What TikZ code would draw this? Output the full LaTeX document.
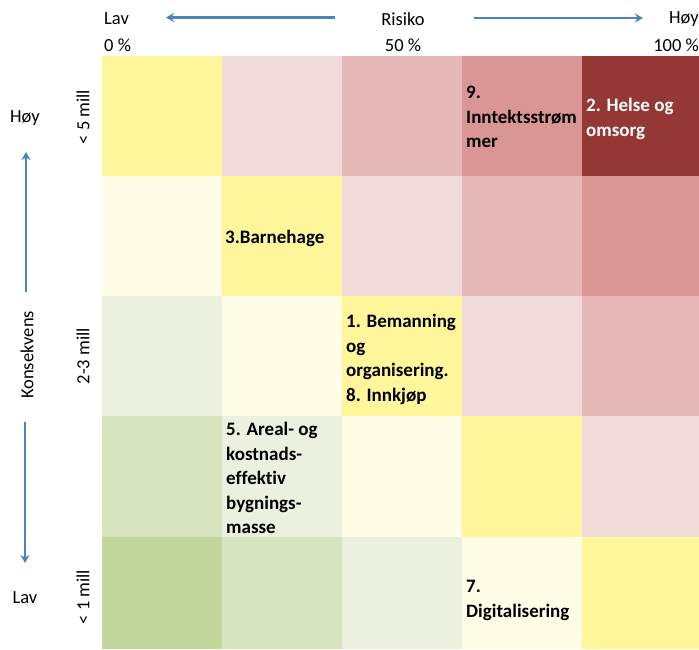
\documentclass[tikz,border=0pt]{standalone}
\usepackage{fontspec}
\setmainfont{Carlito}[Ligatures={NoCommon}]
\usetikzlibrary{arrows.meta}
\definecolor{cYel}{HTML}{FFF69C}
\definecolor{cLYel}{HTML}{FFFDE6}
\definecolor{cLPink}{HTML}{F2DCDB}
\definecolor{cPink}{HTML}{E6B9B8}
\definecolor{cMid}{HTML}{D99694}
\definecolor{cDark}{HTML}{953735}
\definecolor{cLGrn}{HTML}{EBF1DE}
\definecolor{cGrn}{HTML}{D7E4BD}
\definecolor{cDGrn}{HTML}{C3D69B}
\definecolor{arrowblue}{HTML}{4F81BD}
\tikzset{
  axislbl/.style={inner sep=0pt, font=\fontsize{18.5}{22}\selectfont},
  celllbl/.style={inner sep=0pt, anchor=north west, align=left, font=\bfseries\fontsize{19}{24.5}\selectfont},
  bluearrow/.style={draw=arrowblue, line width=2.4pt, -{Stealth[length=8pt,width=9pt]}},
}
\begin{document}
\begin{tikzpicture}[x=1pt,y=-1pt]
\useasboundingbox (0,0) rectangle (699,649);
% grid cells
\def\xs{{102,222,342,462,582,699}}
\def\ys{{56,176,296,416,537,649}}
\newcommand\cellfill[3]{%
  \pgfmathsetmacro\xa{\xs[#1]}\pgfmathsetmacro\xb{\xs[#1+1]}%
  \pgfmathsetmacro\ya{\ys[#2]}\pgfmathsetmacro\yb{\ys[#2+1]}%
  \fill[#3] (\xa,\ya) rectangle (\xb,\yb);}
% row 1
\cellfill{0}{0}{cYel}\cellfill{1}{0}{cLPink}\cellfill{2}{0}{cPink}\cellfill{3}{0}{cMid}\cellfill{4}{0}{cDark}
% row 2
\cellfill{0}{1}{cLYel}\cellfill{1}{1}{cYel}\cellfill{2}{1}{cLPink}\cellfill{3}{1}{cPink}\cellfill{4}{1}{cMid}
% row 3
\cellfill{0}{2}{cLGrn}\cellfill{1}{2}{cLYel}\cellfill{2}{2}{cYel}\cellfill{3}{2}{cLPink}\cellfill{4}{2}{cPink}
% row 4
\cellfill{0}{3}{cGrn}\cellfill{1}{3}{cLGrn}\cellfill{2}{3}{cLYel}\cellfill{3}{3}{cYel}\cellfill{4}{3}{cLPink}
% row 5
\cellfill{0}{4}{cDGrn}\cellfill{1}{4}{cGrn}\cellfill{2}{4}{cLGrn}\cellfill{3}{4}{cLYel}\cellfill{4}{4}{cYel}

% top axis
\node[axislbl, anchor=west] (lavtop) at (104,19) {Lav};
\node[axislbl] (risiko) at (403,19) {Risiko};
\node[axislbl, anchor=east] (hoytop) at (699,19) {Høy};
\node[axislbl, anchor=west] (p0) at (104,45) {0 \%};
\node[axislbl] (p50) at (403,45) {50 \%};
\node[axislbl, anchor=east] (p100) at (699,45) {100 \%};
\coordinate (la) at (335,17.5);
\coordinate (lb) at (166,17.5);
\coordinate (ra) at (474,18);
\coordinate (rb) at (643,18);
\draw[bluearrow] (la) -- (lb);
\draw[bluearrow] (ra) -- (rb);

% left axis
\node[axislbl] (hoyleft) at (25,118) {Høy};
\node[axislbl, rotate=90] (kons) at (27,355) {Konsekvens};
\node[axislbl] (lavleft) at (25,598) {Lav};
\coordinate (ua) at (26,292);
\coordinate (ub) at (26,152);
\coordinate (da) at (25,422);
\coordinate (db) at (25,563);
\draw[bluearrow] (ua) -- (ub);
\draw[bluearrow] (da) -- (db);

\node[axislbl, rotate=90] (r1) at (83,117) {< 5 mill};
\node[axislbl, rotate=90] (r3) at (83,356) {2-3 mill};
\node[axislbl, rotate=90] (r5) at (83,597) {< 1 mill};

% cell labels
\node[celllbl] (c9) at (466,86) {9.\\Inntektsstrøm\\mer};
\node[celllbl, text=white] (c2) at (586,98) {2. Helse og\\omsorg};
\node[celllbl] (c3) at (225,230) {3.Barnehage};
\node[celllbl] (c1) at (346,314) {1. Bemanning\\og\\organisering.\\8. Innkjøp};
\node[celllbl] (c5) at (226,422) {5. Areal- og\\kostnads-\\effektiv\\bygnings-\\masse};
\node[celllbl] (c7) at (466,580) {7.\\Digitalisering};
\end{tikzpicture}
\end{document}
